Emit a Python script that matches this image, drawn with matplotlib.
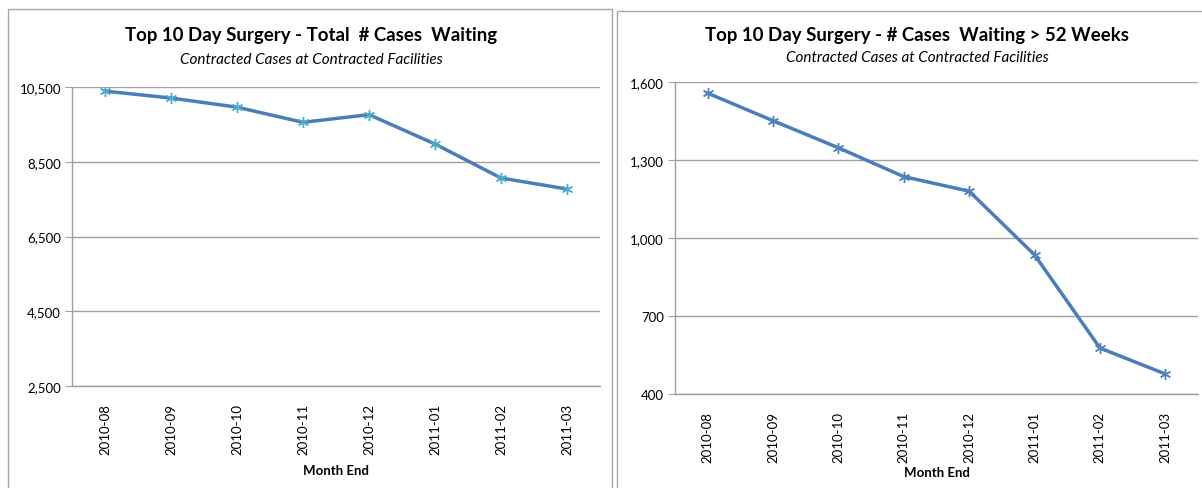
import matplotlib
matplotlib.use("Agg")
import matplotlib.pyplot as plt
from matplotlib.patches import Rectangle
from matplotlib.ticker import FuncFormatter

months = ["2010-08", "2010-09", "2010-10", "2010-11", "2010-12", "2011-01", "2011-02", "2011-03"]
total_waiting = [10390, 10205, 9960, 9555, 9760, 8975, 8065, 7770]
waiting_52wk = [1557, 1451, 1347, 1236, 1180, 935, 577, 477]

left_ticks = [2500, 4500, 6500, 8500, 10500]
right_ticks = [400, 700, 1000, 1300, 1600]

plt.rcParams['font.family'] = ['Lato', 'DejaVu Sans']

W, H = 1202, 489
fig = plt.figure(figsize=(W / 100, H / 100), dpi=100)

def fx(px):
    return px / W

def fy(py):
    return 1 - py / H

# panel frames
for (x0, y0, x1) in [(8, 10, 612), (617, 12, 1206)]:
    fig.patches.append(Rectangle((fx(x0), fy(H + 5)), fx(x1 - x0), fy(y0) - fy(H + 5),
                                 transform=fig.transFigure, fill=False,
                                 edgecolor="#a6a6a6", linewidth=1.0))

line_color = "#4A7EBB"
grid_color = "#a0a0a0"

def make_panel(rect, values, ticks, marker_color, title, title_x, title_y, sub_y, xlabel_y):
    ax = fig.add_axes(rect)
    x = list(range(len(months)))
    ax.plot(x, values, color=line_color, linewidth=2.5, zorder=3)
    ax.plot(x, values, linestyle="none", marker=(6, 2, 0), markersize=8,
            markeredgecolor=marker_color, markeredgewidth=1.0, zorder=4)
    ax.set_xlim(-0.5, len(months) - 0.5)
    ax.set_ylim(ticks[0], ticks[-1])
    ax.set_yticks(ticks)
    ax.yaxis.set_major_formatter(FuncFormatter(lambda v, p: f"{int(v):,}"))
    ax.set_xticks(x)
    ax.set_xticklabels(months, rotation=90, fontsize=9.5)
    ax.tick_params(axis="x", length=0, pad=12)
    ax.tick_params(axis="y", length=5, color=grid_color, labelsize=9.5, pad=3)
    for t in ticks:
        ax.axhline(t, color=grid_color, linewidth=1.0, zorder=1)
    for s in ["top", "right"]:
        ax.spines[s].set_visible(False)
    for s in ["left", "bottom"]:
        ax.spines[s].set_color(grid_color)
        ax.spines[s].set_linewidth(1.0)
    fig.text(fx(title_x), fy(title_y), title, ha="center", va="center",
             fontsize=13.4, fontweight="bold", color="black")
    fig.text(fx(title_x), fy(sub_y), "Contracted Cases at Contracted Facilities",
             ha="center", va="center", fontsize=11, style="italic", color="black")
    cx = (rect[0] + rect[0] + rect[2]) / 2
    fig.text(cx, fy(xlabel_y), "Month End", ha="center", va="center",
             fontsize=9.5, fontweight="bold")
    return ax

make_panel([fx(72), fy(387), fx(600 - 72), fy(88) - fy(387)], total_waiting, left_ticks,
           "#4BACC6", "Top 10 Day Surgery - Total  # Cases  Waiting", 311, 36, 60, 471)
make_panel([fx(675), fy(395), fx(1198 - 675), fy(83) - fy(395)], waiting_52wk, right_ticks,
           "#4F81BD", "Top 10 Day Surgery - # Cases  Waiting > 52 Weeks", 917, 36, 58, 473)

fig.savefig("out.png", dpi=100)
